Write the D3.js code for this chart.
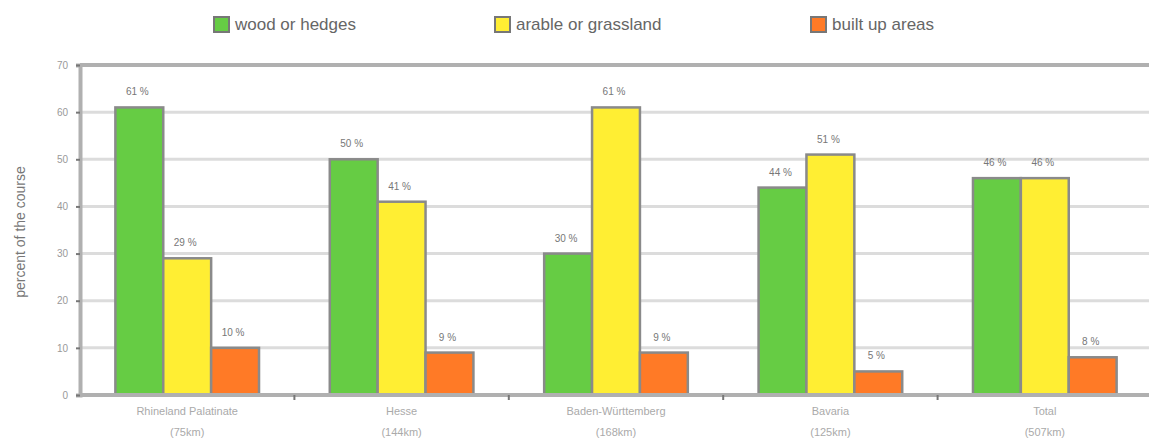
<!DOCTYPE html>
<html>
<head>
    <meta charset="utf-8">
    <title>Land use along the course</title>
    <script src="https://cdn.jsdelivr.net/npm/d3@7"></script>
    <style>
        body { margin: 0; background: #fff; font-family: "Liberation Sans", Arial, sans-serif; }
    </style>
</head>
<body>
    <svg id="chart" width="1149" height="440"></svg>

    <script>
        // data
        var regions = ["Rhineland Palatinate", "Hesse", "Baden-Württemberg", "Bavaria", "Total"];
        var distances = ["(75km)", "(144km)", "(168km)", "(125km)", "(507km)"];
        var seriesNames = ["wood or hedges", "arable or grassland", "built up areas"];
        var wood = [61, 50, 30, 44, 46];
        var arable = [29, 41, 61, 51, 46];
        var built = [10, 9, 9, 5, 8];
        var yTicks = [0, 10, 20, 30, 40, 50, 60, 70];

        var colors = ["#66cc44", "#ffee33", "#ff7a26"];
        var allSeries = [wood, arable, built];

        var svg = d3.select("#chart");
        // note: "top" is taken by window.top, so plot edges get their own names
        var plotLeft = 80, plotRight = 1152, plotTop = 65, plotBottom = 395;

        var x = d3.scaleBand()
            .domain(regions)
            .range([plotLeft, plotRight])
            .paddingInner(0.33)
            .paddingOuter(0.165);

        var x1 = d3.scaleBand()
            .domain(seriesNames)
            .range([0, x.bandwidth()]);

        var y = d3.scaleLinear()
            .domain([0, 70])
            .range([plotBottom, plotTop]);

        // grid lines
        svg.append("g")
            .selectAll("line")
            .data(yTicks.slice(1, -1))
            .enter().append("line")
            .attr("x1", plotLeft).attr("x2", plotRight)
            .attr("y1", function(d) { return y(d); })
            .attr("y2", function(d) { return y(d); })
            .attr("stroke", "#dcdcdc")
            .attr("stroke-width", 3);

        // top frame line
        svg.append("line")
            .attr("x1", plotLeft).attr("x2", plotRight)
            .attr("y1", y(70)).attr("y2", y(70))
            .attr("stroke", "#b0b0b0").attr("stroke-width", 4);

        // y axis
        var yAxis = d3.axisLeft(y).tickValues(yTicks).tickSize(4).tickPadding(8);
        var yg = svg.append("g")
            .attr("transform", "translate(" + plotLeft + ",0)")
            .call(yAxis);
        yg.select(".domain").attr("stroke", "#b0b0b0").attr("stroke-width", 4);
        yg.selectAll(".tick line").attr("stroke", "#777").attr("stroke-width", 2);
        yg.selectAll(".tick text")
            .attr("fill", "#999")
            .style("font-size", "10px")
            .style("font-family", "Liberation Sans, Arial, sans-serif");

        // bars
        var groups = svg.append("g")
            .selectAll("g")
            .data(regions)
            .enter().append("g")
            .attr("transform", function(d) { return "translate(" + x(d) + ",0)"; });

        groups.selectAll("rect")
            .data(function(d, i) {
                return seriesNames.map(function(s, j) {
                    return { key: s, value: allSeries[j][i], color: colors[j] };
                });
            })
            .enter().append("rect")
            .attr("x", function(d) { return x1(d.key); })
            .attr("y", function(d) { return y(d.value); })
            .attr("width", x1.bandwidth())
            .attr("height", function(d) { return plotBottom - y(d.value); })
            .attr("fill", function(d) { return d.color; })
            .attr("stroke", "#8a8a8a")
            .attr("stroke-width", 2.5);

        groups.selectAll("text")
            .data(function(d, i) {
                return seriesNames.map(function(s, j) {
                    return { key: s, value: allSeries[j][i] };
                });
            })
            .enter().append("text")
            .attr("x", function(d) { return x1(d.key) + x1.bandwidth() / 2 - 2; })
            .attr("y", function(d) { return y(d.value) - 12; })
            .attr("text-anchor", "middle")
            .attr("fill", "#777")
            .style("font-size", "10px")
            .text(function(d) { return d.value + " %"; });

        // x axis
        var xg = svg.append("g")
            .attr("transform", "translate(0," + plotBottom + ")");
        xg.append("line")
            .attr("x1", plotLeft).attr("x2", plotRight)
            .attr("stroke", "#b0b0b0").attr("stroke-width", 4);
        xg.selectAll(".sep")
            .data(regions.slice(1))
            .enter().append("line")
            .attr("class", "sep")
            .attr("x1", function(d) { return x(d) - x.step() * 0.33 / 2; })
            .attr("x2", function(d) { return x(d) - x.step() * 0.33 / 2; })
            .attr("y1", 0).attr("y2", 5)
            .attr("stroke", "#777").attr("stroke-width", 2);

        var cat = xg.selectAll(".cat")
            .data(regions)
            .enter().append("text")
            .attr("class", "cat")
            .attr("text-anchor", "middle")
            .attr("fill", "#aaa")
            .style("font-size", "11px");
        cat.append("tspan")
            .attr("x", function(d) { return x(d) + x.bandwidth() / 2; })
            .attr("y", 20)
            .text(function(d) { return d; });
        cat.append("tspan")
            .attr("x", function(d) { return x(d) + x.bandwidth() / 2; })
            .attr("y", 41)
            .text(function(d, i) { return distances[i]; });

        // y axis title
        svg.append("text")
            .attr("transform", "translate(25," + ((plotTop + plotBottom) / 2 + 2) + ") rotate(-90)")
            .attr("text-anchor", "middle")
            .attr("fill", "#777")
            .style("font-size", "14px")
            .text("percent of the course");

        // legend
        var legendX = [214, 495, 811];
        var legend = svg.append("g")
            .selectAll("g")
            .data(seriesNames)
            .enter().append("g")
            .attr("transform", function(d, i) { return "translate(" + legendX[i] + ",17)"; });
        legend.append("rect")
            .attr("width", 15).attr("height", 15)
            .attr("fill", function(d, i) { return colors[i]; })
            .attr("stroke", "#777").attr("stroke-width", 2);
        legend.append("text")
            .attr("x", 21).attr("y", 13)
            .attr("fill", "#666")
            .style("font-size", "17px")
            .text(function(d) { return d; });
    </script>
</body>
</html>
